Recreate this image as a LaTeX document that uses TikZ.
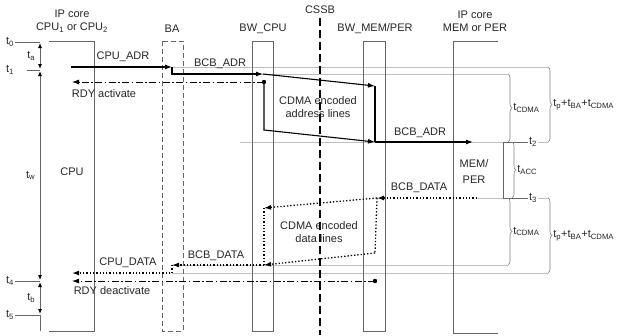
\documentclass[tikz,border=0pt]{standalone}
\usepackage{fontspec}
\setmainfont{Liberation Sans}
\usetikzlibrary{arrows.meta,decorations.pathreplacing}
\definecolor{lanegray}{gray}{0.4}
\definecolor{timegray}{gray}{0.75}
\definecolor{textgray}{gray}{0.15}
\newcommand{\tsub}[1]{t\textsubscript{#1}}

\begin{document}
\begin{tikzpicture}[x=1pt,y=-1pt,
  font=\fontsize{11}{13}\selectfont, text=textgray,
  lane/.style={draw=lanegray, line width=0.9pt},
  dashlane/.style={lane, dash pattern=on 5pt off 3pt},
  timeline/.style={draw=timegray, line width=0.6pt},
  sig/.style={line width=1.1pt, -{Latex[length=7pt,width=5pt]}},
  sigline/.style={line width=1.1pt},
  datasig/.style={line width=1.3pt, dotted, -{Latex[length=7pt,width=5pt]}},
  dataline/.style={line width=1.3pt, dotted},
  rdy/.style={line width=0.8pt, dash pattern=on 7pt off 2.5pt on 1.5pt off 2.5pt, -{Latex[length=7pt,width=5pt]}},
  taxis/.style={draw=lanegray, line width=0.9pt, shorten <=1pt, shorten >=1pt,
    {Latex[length=5pt,width=4pt,black]}-{Latex[length=5pt,width=4pt,black]}},
  tbrace/.style={draw=gray, line width=0.6pt, decorate, decoration={brace, amplitude=4pt}},
  lbl/.style={inner sep=1pt}
]
  \useasboundingbox (0,0) rectangle (617,335);

  % time lines
  \draw[timeline] (172,67) -- (548,67);
  \draw[timeline] (172,74) -- (508,74);
  \draw[timeline] (240,142) -- (548,142);
  \draw[timeline] (477,198) -- (548,198);
  \draw[timeline] (172,265) -- (508,265);
  \draw[timeline] (172,273) -- (548,273);

  % lanes
  \draw[lane] (49,41) -- (94,41) -- (94,331) -- (49,331);
  \node[align=center] (cpuhd) at (72,21) {IP core\\CPU\textsubscript{1} or CPU\textsubscript{2}};
  \node (cpu) at (72,172) {CPU};
  \draw[dashlane] (162,41) rectangle (183,331);
  \node (ba) at (172,29) {BA};
  \draw[lane] (252,41) rectangle (273,331);
  \node (bwc) at (263,29) {BW\_CPU};
  \draw[lane] (363,41) rectangle (385,331);
  \node (bwm) at (375,29) {BW\_MEM/PER};
  \draw[line width=1.2pt, dash pattern=on 8pt off 4pt] (320,18) -- (320,335);
  \node (cssb) at (320,10) {CSSB};
  \draw[lane] (498,41) -- (453,41) -- (453,333) -- (498,333);
  \node[align=center] (memhd) at (475,21) {IP core\\MEM or PER};
  \node[align=center] (mem) at (474,172) {MEM/\\[3pt]PER};

  % time axis
  \coordinate (t0) at (40,42);
  \coordinate (t1) at (40,70);
  \coordinate (t4) at (40,281);
  \coordinate (t5) at (40,315);
  \coordinate (tend) at (40,331);
  \node[lbl] (lt0) at (10,42) {\tsub{0}};
  \node[lbl] (lt1) at (10,70) {\tsub{1}};
  \node[lbl] (lt4) at (10,281) {\tsub{4}};
  \node[lbl] (lt5) at (10,315) {\tsub{5}};
  \draw[lane] (lt0.east) -- (t0);
  \draw[lane] (t1) -- ++(-13,0);
  \draw[lane] (lt4.east) -- (t4);
  \draw[lane] (lt5.east) -- (t5);
  \draw[taxis] (t0) -- (t1) node[midway, left=1pt] (lta) {\tsub{a}};
  \draw[taxis] (t1) -- (t4) node[midway, left=1pt] (ltw) {\tsub{w}};
  \draw[taxis] (t4) -- (t5) node[midway, left=1pt] (ltb) {\tsub{b}};
  \draw[lane] (t5) -- (tend);

  % address phase
  \coordinate (cpuA) at (71,67);
  \coordinate (baA) at (172,67);
  \coordinate (baB) at (172,74);
  \coordinate (bwcA) at (263,74);
  \coordinate (bwcD) at (264,82);
  \coordinate (bwcB) at (264,130);
  \coordinate (bwmA) at (375,86);
  \coordinate (bwmB) at (375,142);
  \coordinate (memA) at (473,142);
  \coordinate (cpuR) at (72,82);
  \draw[sig] (cpuA) -- (baA);
  \node (lcpuadr) at (123,57) {CPU\_ADR};
  \draw[sig] (baA) -- (baB) -- (bwcA);
  \node (lbcbadr) at (220,64) {BCB\_ADR};
  \draw[sig] (bwcA) -- (bwmA);
  \draw[sigline] (bwmA) -- (bwmB);
  \draw[sig] (bwcD) -- (bwcB) -- (bwmB);
  \node[align=center] (ladr) at (318,107) {CDMA encoded\\address lines};
  \draw[sig] (bwmB) -- (memA);
  \node (lbcbadr2) at (420,133) {BCB\_ADR};
  \fill (bwcD) circle (2.2pt);
  \draw[rdy] (bwcD) -- (cpuR);
  \node (lrdya) at (104,94) {RDY activate};

  % data phase
  \coordinate (memB) at (477,198);
  \coordinate (bwmC) at (377,198);
  \coordinate (bwcC) at (264,208);
  \coordinate (bwmD) at (375,253);
  \coordinate (bwcE) at (264,265);
  \coordinate (baC) at (172,265);
  \coordinate (baD) at (172,273);
  \coordinate (cpuD) at (72,273);
  \draw[datasig] (memB) -- (bwmC);
  \node (lbcbdata) at (419,188) {BCB\_DATA};
  \draw[datasig] (bwmC) -- (bwcC);
  \draw[dataline] (bwmC) -- (bwmD);
  \draw[datasig] (bwmD) -- (bwcE);
  \draw[dataline] (bwcC) -- (bwcE);
  \node[align=center] (ldata) at (319,232) {CDMA encoded\\data lines};
  \draw[datasig] (bwcE) -- (baC);
  \node (lbcbdata2) at (216,256) {BCB\_DATA};
  \draw[datasig] (baC) -- (baD) -- (cpuD);
  \node (lcpudata) at (128,263) {CPU\_DATA};
  \coordinate (bwmE) at (375,281);
  \coordinate (cpuE) at (72,281);
  \fill (bwmE) circle (2.2pt);
  \draw[rdy] (bwmE) -- (cpuE);
  \node (lrdyd) at (112,291) {RDY deactivate};

  % braces
  \draw[line width=0.9pt, lanegray] (528,142) -- (503,142) -- (503,198) -- (528,198);
  \node[lbl, fill=white] (lt2) at (533,142) {\tsub{2}};
  \node[lbl, fill=white] (lt3) at (533,198) {\tsub{3}};
  \draw[tbrace] (508,74) -- (508,142) node[midway, right=4pt, lbl] (lcdma1) {\tsub{CDMA}};
  \draw[tbrace] (548,67) -- (548,142) node[midway, right=4pt, lbl] (lsum1) {\tsub{p}+\tsub{BA}+\tsub{CDMA}};
  \draw[tbrace] (512,142) -- (512,198) node[midway, right=4pt, lbl] (lacc) {\tsub{ACC}};
  \draw[tbrace] (508,198) -- (508,265) node[midway, right=4pt, lbl] (lcdma2) {\tsub{CDMA}};
  \draw[tbrace] (548,198) -- (548,273) node[midway, right=4pt, lbl] (lsum2) {\tsub{p}+\tsub{BA}+\tsub{CDMA}};
\end{tikzpicture}
\end{document}
